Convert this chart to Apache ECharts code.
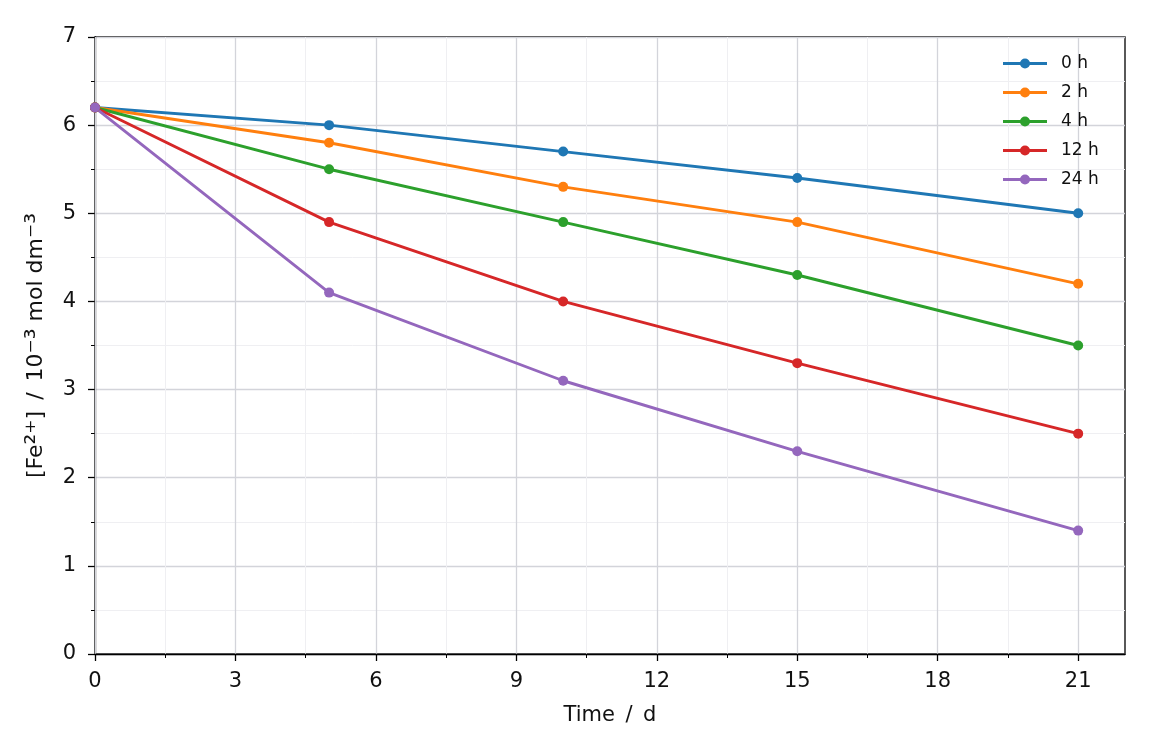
<!DOCTYPE html>
<html><head><meta charset="utf-8">
<script src="https://cdn.jsdelivr.net/npm/echarts@6/dist/echarts.min.js"></script>
<style>html,body{margin:0;padding:0;background:#fff}#c{width:1152px;height:756px}</style>
</head><body><div id="c"></div>
<script>
const days = [0, 5, 10, 15, 21];
const seriesNames = ['0 h', '2 h', '4 h', '12 h', '24 h'];
const s0h = [6.2, 6.0, 5.7, 5.4, 5.0];
const s2h = [6.2, 5.8, 5.3, 4.9, 4.2];
const s4h = [6.2, 5.5, 4.9, 4.3, 3.5];
const s12h = [6.2, 4.9, 4.0, 3.3, 2.5];
const s24h = [6.2, 4.1, 3.1, 2.3, 1.4];
const xTicks = [0, 3, 6, 9, 12, 15, 18, 21];
const xMinor = [1.5, 4.5, 7.5, 10.5, 13.5, 16.5, 19.5];
const colors = ['#1f77b4', '#ff7f0e', '#2ca02c', '#d62728', '#9467bd'];
const allData = [s0h, s2h, s4h, s12h, s24h];

const font = 'DejaVu Sans';
const legendIcon = 'path://M0,3.5H44V6.5H0Z M27,5A5,5 0 1 1 17,5A5,5 0 1 1 27,5Z';
const chart = echarts.init(document.getElementById('c'));
const series = allData.map((d, i) => ({
  name: seriesNames[i], type: 'line', xAxisIndex: 0,
  data: days.map((x, j) => [x, d[j]]),
  symbol: 'circle', symbolSize: 10,
  lineStyle: {color: colors[i], width: 2.9},
  itemStyle: {color: colors[i]},
  z: 5
}));
series.push({
  name: '_minorgrid', type: 'line', data: [], xAxisIndex: 0, silent: true, z: 1,
  markLine: {silent: true, z: 1, symbol: 'none', label: {show: false}, animation: false,
    emphasis: {disabled: true},
    lineStyle: {color: '#efeff2', width: 1, type: 'solid'},
    data: xMinor.map(v => ({xAxis: v}))}
});
chart.setOption({
  animation: false,
  textStyle: {fontFamily: font},
  grid: {left: 95, right: 27, top: 37, bottom: 102, show: true, borderColor: '#000', borderWidth: 1.3, backgroundColor: 'transparent', containLabel: false},
  legend: {
    orient: 'vertical', left: 998, top: 50, itemWidth: 44, itemHeight: 10, itemGap: 12, z: 10,
    textStyle: {fontSize: 17, lineHeight: 17, color: '#111', fontFamily: font, padding: [0, 0, 0, 9]},
    data: seriesNames.map(n => ({name: n, icon: legendIcon}))
  },
  xAxis: [{
    type: 'value', min: 0, max: 22, interval: 3,
    name: 'Time\u2002/\u2002d', nameLocation: 'middle', nameGap: 51,
    nameTextStyle: {fontSize: 21, color: '#111', fontFamily: font},
    axisLine: {show: true, lineStyle: {color: '#000', width: 1.3}},
    axisTick: {show: true, length: 7, inside: false, lineStyle: {color: '#000', width: 1.3}, customValues: xTicks},
    axisLabel: {fontSize: 21, color: '#111', margin: 17, fontFamily: font, customValues: xTicks},
    splitLine: {show: true, lineStyle: {color: '#d3d4da', width: 1.3}},
    z: 3
  }, {
    type: 'value', min: 0, max: 22, position: 'bottom', gridIndex: 0,
    axisLine: {show: false},
    axisTick: {show: true, length: 4, lineStyle: {color: '#000', width: 1}, customValues: xMinor},
    axisLabel: {show: false, customValues: xMinor},
    splitLine: {show: false}
  }],
  yAxis: {
    type: 'value', min: 0, max: 7, interval: 1,
    name: '[Fe{s|²⁺}]\u2002/\u200210{s|⁻³} mol dm{s|⁻³}', nameLocation: 'middle', nameGap: 45,
    nameTextStyle: {fontSize: 22, color: '#111', fontFamily: font,
      rich: {s: {fontSize: 27, color: '#111', fontFamily: font}}},
    axisLine: {show: true, lineStyle: {color: '#000', width: 1.3}},
    axisTick: {show: true, length: 7, lineStyle: {color: '#000', width: 1.3}},
    axisLabel: {fontSize: 21, color: '#111', margin: 19, fontFamily: font},
    splitLine: {show: true, lineStyle: {color: '#d3d4da', width: 1.3}},
    minorTick: {show: true, splitNumber: 2, length: 4, lineStyle: {color: '#000', width: 1}},
    minorSplitLine: {show: true, lineStyle: {color: '#efeff2', width: 1}}
  },
  series: series
});
</script></body></html>
